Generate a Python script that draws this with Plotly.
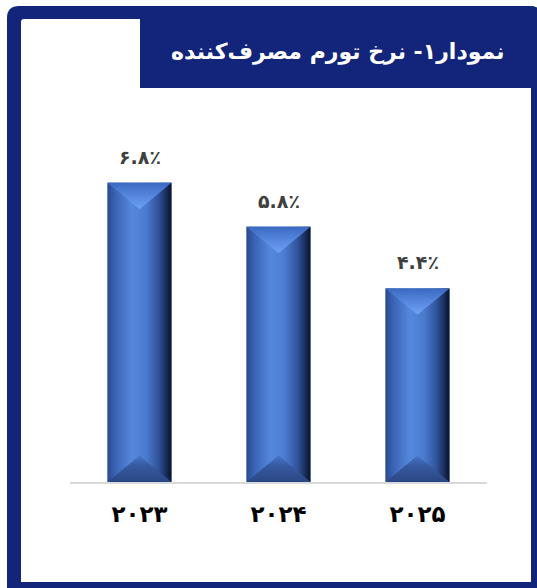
import plotly.graph_objects as go

# ---- data ----
years = ["۲۰۲۳", "۲۰۲۴", "۲۰۲۵"]
inflation = [6.8, 5.8, 4.4]
value_labels = ["۶.۸٪", "۵.۸٪", "۴.۴٪"]
title_text = "نمودار۱- نرخ تورم مصرف‌کننده"

# ---- layout geometry (pixels) ----
W, H = 537, 588
L, R, T, B = 70, 487, 100, 482
NAVY = "#13257A"
BAR_W = 0.46
BEVEL = 0.6
Y_MAX = (B - T) / 44.0


def fx(px):
    return (px - L) / (R - L)


def fy(py):
    return (B - py) / (B - T)


xs = list(range(len(years)))

fig = go.Figure()

# base bars
fig.add_trace(go.Bar(
    x=xs, y=inflation, width=BAR_W,
    marker=dict(color="#4472C4", line=dict(width=0)),
    hoverinfo="skip", showlegend=False,
))

body_scale = [[0, "#2b4a8e"], [0.12, "#3a63b4"], [0.38, "#5588dd"],
              [0.6, "#4a7bcf"], [0.8, "#30529a"], [0.92, "#182d5a"],
              [1, "#08122a"]]
top_scale = [[0, "#6fa3f5"], [0.5, "#5587de"], [1, "#3c69c2"]]
bot_scale = [[0, "#2a4784"], [0.6, "#36599f"], [1, "#4676c8"]]

for i, v in zip(xs, inflation):
    x0, x1 = i - BAR_W / 2, i + BAR_W / 2
    # body with horizontal gradient
    fig.add_trace(go.Scatter(
        x=[x0, x1, x1, x0, x0], y=[0, 0, v, v, 0],
        mode="lines", line=dict(width=0), fill="toself",
        fillgradient=dict(type="horizontal", colorscale=body_scale),
        hoverinfo="skip", showlegend=False,
    ))
    # top bevel
    fig.add_trace(go.Scatter(
        x=[x0, x1, i, x0], y=[v, v, v - BEVEL, v],
        mode="lines", line=dict(width=0), fill="toself",
        fillgradient=dict(type="vertical", colorscale=top_scale),
        hoverinfo="skip", showlegend=False,
    ))
    # bottom bevel
    fig.add_trace(go.Scatter(
        x=[x0, x1, i, x0], y=[0, 0, BEVEL, 0],
        mode="lines", line=dict(width=0), fill="toself",
        fillgradient=dict(type="vertical", colorscale=bot_scale),
        hoverinfo="skip", showlegend=False,
    ))

# value labels
for i, v, lab in zip(xs, inflation, value_labels):
    fig.add_annotation(
        x=i, y=v, text="<b>" + lab + "</b>", showarrow=False,
        yanchor="middle", yshift=26,
        font=dict(family="DejaVu Sans", size=19, color="#404040"),
    )

# frame shapes
outer = (f"M {fx(7)},{fy(18)} L {fx(7)},{fy(592)} L {fx(540)},{fy(592)} "
         f"L {fx(540)},{fy(14)} Q {fx(540)},{fy(6)} {fx(530)},{fy(6)} "
         f"L {fx(19)},{fy(6)} Q {fx(7)},{fy(6)} {fx(7)},{fy(18)} Z")
inner = (f"M {fx(21)},{fy(22)} L {fx(21)},{fy(582)} L {fx(531)},{fy(582)} "
         f"L {fx(531)},{fy(19)} L {fx(24)},{fy(19)} Q {fx(21)},{fy(19)} {fx(21)},{fy(22)} Z")
tbox = (f"M {fx(140)},{fy(6)} L {fx(140)},{fy(88)} L {fx(540)},{fy(88)} "
        f"L {fx(540)},{fy(14)} Q {fx(540)},{fy(6)} {fx(530)},{fy(6)} Z")

shapes = [
    dict(type="path", path=outer, xref="paper", yref="paper",
         fillcolor=NAVY, line=dict(width=0), layer="below"),
    dict(type="path", path=inner, xref="paper", yref="paper",
         fillcolor="white", line=dict(width=0), layer="below"),
    dict(type="path", path=tbox, xref="paper", yref="paper",
         fillcolor=NAVY, line=dict(width=0), layer="below"),
]

fig.add_annotation(
    x=fx(338), y=fy(52), xref="paper", yref="paper",
    text="<b>" + title_text + "</b>", showarrow=False,
    xanchor="center", yanchor="middle",
    font=dict(family="DejaVu Sans", size=22, color="white"),
)

fig.update_layout(
    width=W, height=H,
    margin=dict(l=L, r=W - R, t=T, b=H - B, pad=0),
    paper_bgcolor="white", plot_bgcolor="rgba(0,0,0,0)",
    shapes=shapes, showlegend=False,
    xaxis=dict(
        range=[-0.5, 2.5], tickvals=xs,
        ticktext=["<b>" + y + "</b>" for y in years],
        tickfont=dict(family="DejaVu Sans", size=23, color="black"),
        showgrid=False, zeroline=False,
        showline=True, linecolor="#d9d9d9", linewidth=2,
        ticks="outside", ticklen=10, tickcolor="rgba(0,0,0,0)",
        fixedrange=True,
    ),
    yaxis=dict(range=[0, Y_MAX], visible=False, fixedrange=True),
)

fig.write_html(
    "out.html",
    config={"displayModeBar": False},
    post_script="document.body.style.margin='0';document.body.style.overflow='hidden';",
)
